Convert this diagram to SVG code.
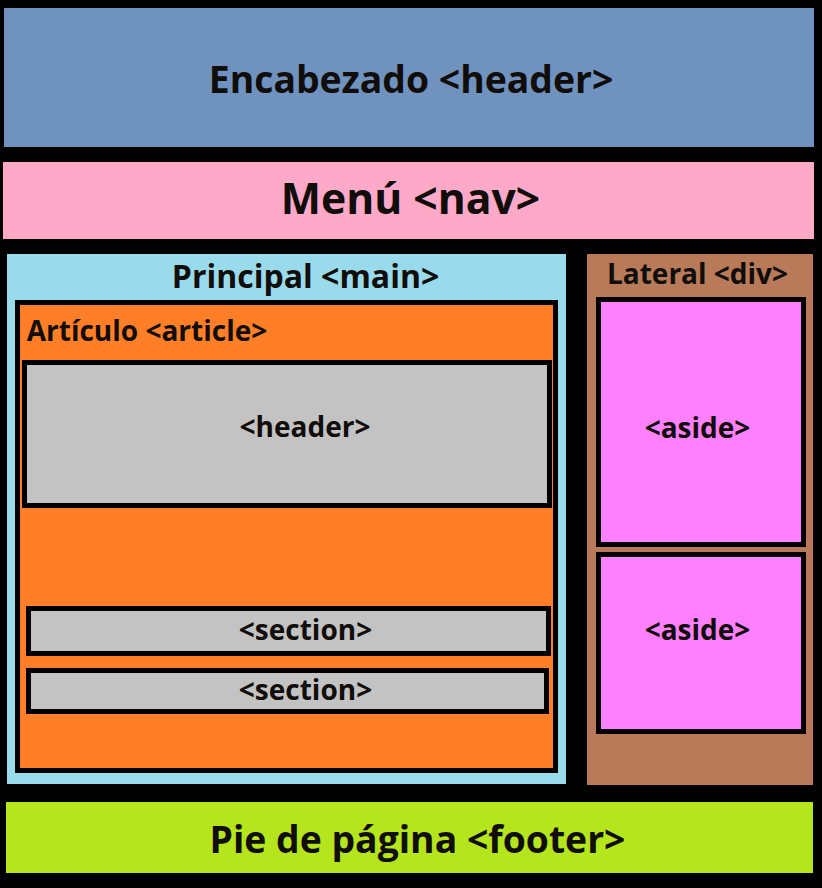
<svg xmlns="http://www.w3.org/2000/svg" width="822" height="888" viewBox="0 0 822 888">
<style>
text{font-family:"Open Sans","Noto Sans","DejaVu Sans",sans-serif;font-weight:bold;fill:#100d0a;text-anchor:middle}
.box{stroke:#000;stroke-width:5}
.s{font-size:28px}
</style>
<rect x="0" y="0" width="822" height="888" fill="#000"/>
<g id="header">
<rect x="4" y="8" width="810" height="139" fill="#6f92bf"/>
<text x="411" y="93" font-size="37.33">Encabezado &lt;header&gt;</text>
</g>
<g id="nav">
<rect x="3" y="162" width="811" height="77" fill="#ffa9c8"/>
<text x="410.5" y="214" font-size="42.67">Menú &lt;nav&gt;</text>
</g>
<g id="main">
<rect x="7" y="254" width="559" height="530" fill="#99dbeb"/>
<text x="305.5" y="288" font-size="32">Principal &lt;main&gt;</text>
</g>
<g id="article">
<rect class="box" x="17.5" y="302.5" width="538" height="468" fill="#fe7f27"/>
<text class="s" x="147" y="341">Artículo &lt;article&gt;</text>
</g>
<g id="article-header">
<rect class="box" x="24.5" y="362.5" width="525" height="143" fill="#c3c3c3"/>
<text class="s" x="305" y="437">&lt;header&gt;</text>
</g>
<g id="section1">
<rect class="box" x="28.5" y="608.5" width="520" height="45" fill="#c3c3c3"/>
<text class="s" x="305.5" y="640">&lt;section&gt;</text>
</g>
<g id="section2">
<rect class="box" x="28.5" y="670.5" width="518" height="41" fill="#c3c3c3"/>
<text class="s" x="305.5" y="700">&lt;section&gt;</text>
</g>
<g id="lateral">
<rect x="587" y="254" width="226" height="531" fill="#b87a58"/>
<text class="s" x="697.5" y="284">Lateral &lt;div&gt;</text>
</g>
<g id="aside1">
<rect class="box" x="598.5" y="299.5" width="205" height="245" fill="#ff80ff"/>
<text class="s" x="697.5" y="438">&lt;aside&gt;</text>
</g>
<g id="aside2">
<rect class="box" x="598.5" y="554.5" width="205" height="177" fill="#ff80ff"/>
<text class="s" x="697.5" y="640">&lt;aside&gt;</text>
</g>
<g id="footer">
<rect x="6" y="802" width="807" height="71" fill="#b5e61d"/>
<text x="417.5" y="853" font-size="37.33">Pie de página &lt;footer&gt;</text>
</g>
<g id="connectors"/>
</svg>
